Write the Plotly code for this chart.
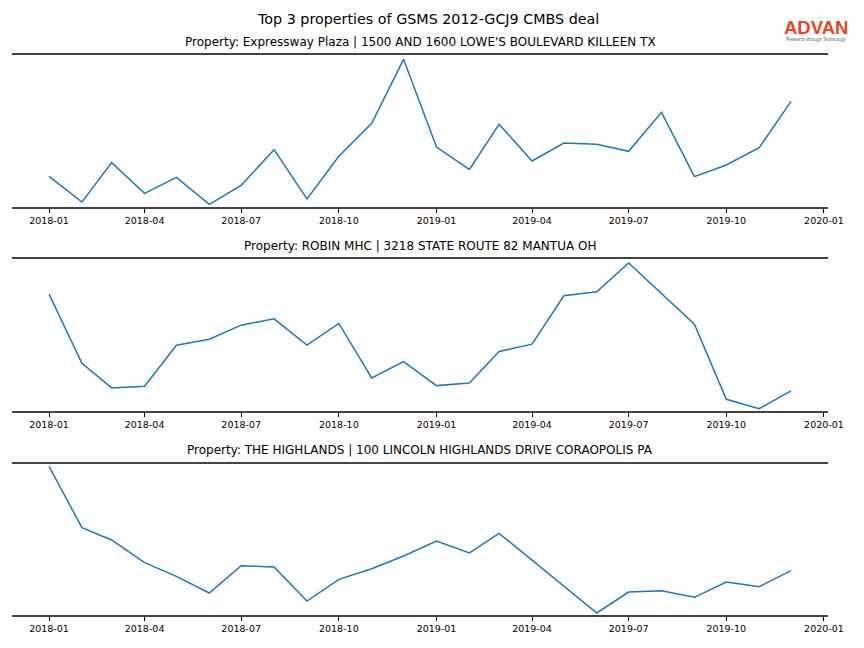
import plotly.graph_objects as go
import pandas as pd

months = pd.date_range("2018-01-01", "2019-12-01", freq="MS")

title = "Top 3 properties of GSMS 2012-GCJ9 CMBS deal"
properties = [
    "Property: Expressway Plaza | 1500 AND 1600 LOWE'S BOULEVARD KILLEEN TX",
    "Property: ROBIN MHC | 3218 STATE ROUTE 82 MANTUA OH",
    "Property: THE HIGHLANDS | 100 LINCOLN HIGHLANDS DRIVE CORAOPOLIS PA",
]

expressway = [92, 15, 133, 41, 89, 8, 65, 172, 24, 152, 251, 443,
              180, 113, 248, 138, 192, 188, 167, 284, 91, 126, 178, 317]
robin = [350, 143, 69, 74, 197, 215, 257, 276, 197, 262, 99, 148,
         76, 84, 178, 200, 345, 357, 443, 352, 260, 35, 7, 60]
highlands = [446, 262, 225, 157, 116, 66, 148, 144, 42, 107, 139, 177,
             222, 186, 245, 164, 86, 6, 69, 73, 53, 99, 85, 133]

series = [expressway, robin, highlands]
yranges = [[0, 456], [0, 455], [0, 453]]

W, H = 864, 648
FW = 856  # horizontal reference width for paper fractions
x0, x1 = 12 / FW, 836 / FW
panels_px = [(55, 207), (259, 411), (464, 615)]
title_y_px = [42, 246, 450]

fig = go.Figure()
for i, (vals, (top, bot)) in enumerate(zip(series, panels_px)):
    n = i + 1
    xa = "x" if n == 1 else f"x{n}"
    ya = "y" if n == 1 else f"y{n}"
    fig.add_trace(go.Scatter(x=months, y=vals, mode="lines",
                             line=dict(color="#1f77b4", width=1.5),
                             xaxis=xa, yaxis=ya, showlegend=False))
    xkey = "xaxis" if n == 1 else f"xaxis{n}"
    ykey = "yaxis" if n == 1 else f"yaxis{n}"
    fig.update_layout(**{
        xkey: dict(domain=[x0, x1], anchor=ya,
                   range=["2017-11-27", "2020-01-05"],
                   tick0="2018-01-01", dtick="M3", tickformat="%Y-%m",
                   ticks="outside", ticklen=3.5, tickwidth=0.8, tickcolor="#000",
                   showline=True, mirror=True, linecolor="#444444", linewidth=2,
                   showgrid=False, zeroline=False,
                   tickfont=dict(family="DejaVu Sans", size=9.5, color="#000")),
        ykey: dict(domain=[1 - bot / H, 1 - top / H], anchor=xa,
                   range=yranges[i], showgrid=False, zeroline=False,
                   showticklabels=False, showline=False, ticks=""),
    })
    fig.add_annotation(text=properties[i], xref="paper", yref="paper",
                       x=(x0 + x1) / 2, y=1 - title_y_px[i] / H,
                       xanchor="center", yanchor="middle", showarrow=False,
                       font=dict(family="DejaVu Sans", size=12, color="#000"))

fig.add_annotation(text=title, xref="paper", yref="paper",
                   x=432 / FW, y=1 - 19 / H, xanchor="center", yanchor="middle",
                   showarrow=False,
                   font=dict(family="DejaVu Sans", size=14.3, color="#000"))

# logo
fig.add_annotation(text="<b>ADVAN</b>", xref="paper", yref="paper",
                   x=824 / FW, y=1 - 27.5 / H, xanchor="center", yanchor="middle",
                   showarrow=False,
                   font=dict(family="Liberation Sans", size=18.5, color="#e2491f"))
fig.add_annotation(text="Research through Technology", xref="paper", yref="paper",
                   x=824 / FW, y=1 - 39 / H, xanchor="center", yanchor="middle",
                   showarrow=False,
                   font=dict(family="Liberation Sans", size=4.5, color="#666666"))

fig.update_layout(width=W, height=H, autosize=False,
                  margin=dict(l=0, r=0, t=0, b=0),
                  paper_bgcolor="white", plot_bgcolor="white")

post = """
document.documentElement.style.overflow = 'hidden';
document.body.style.margin = '0';
document.body.style.overflow = 'hidden';
"""

fig.write_html("out.html",
               config={"responsive": False, "displayModeBar": False},
               post_script=post)
